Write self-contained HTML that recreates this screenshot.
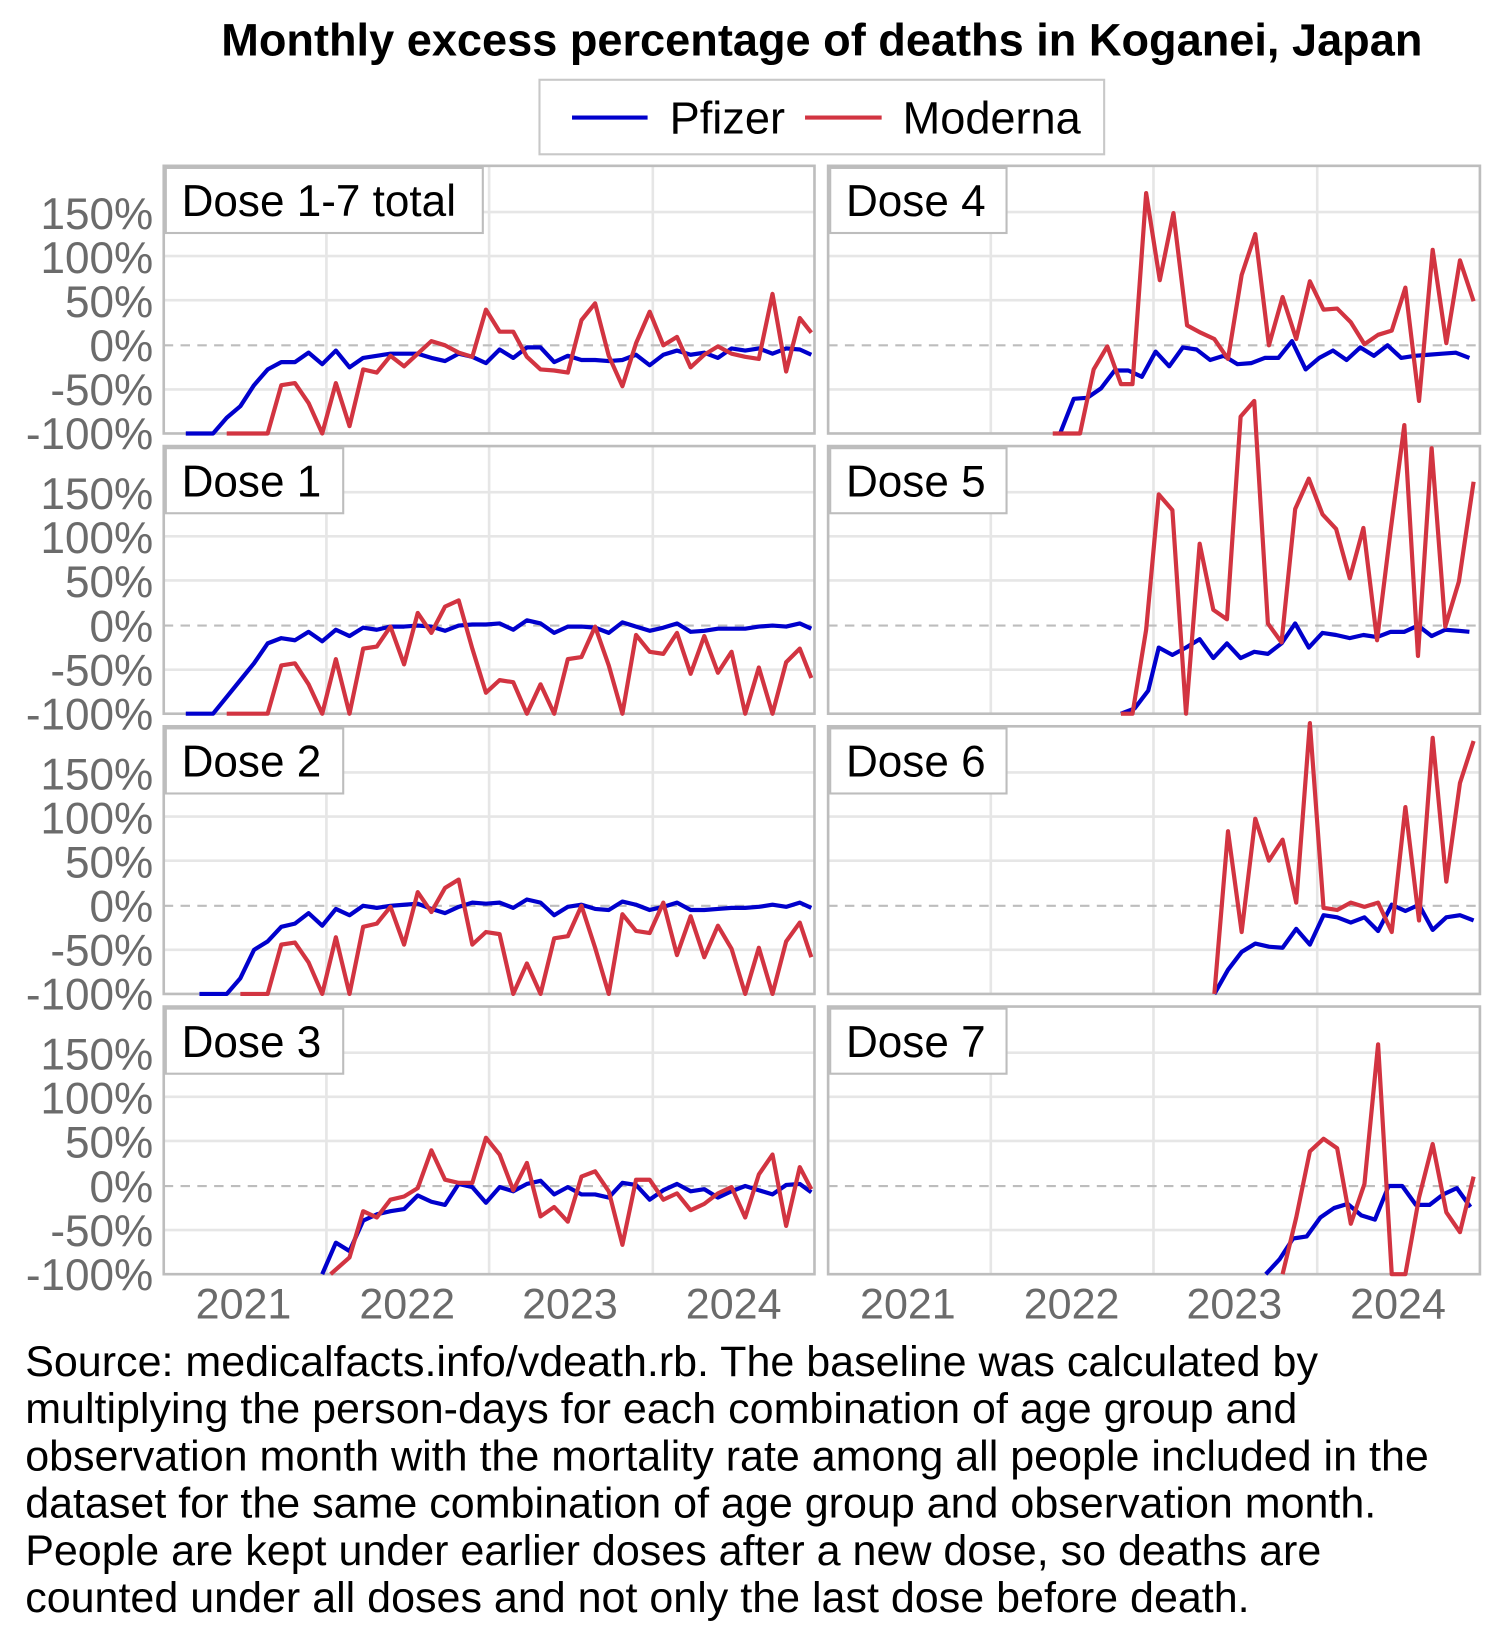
<!DOCTYPE html>
<html><head><meta charset="utf-8"><style>
html,body{margin:0;padding:0;background:#fff;}
svg{display:block;}
text{font-family:"Liberation Sans",Arial,sans-serif;}
</style></head><body>
<svg width="1503" height="1643" viewBox="0 0 1432 1565.4" xmlns="http://www.w3.org/2000/svg">
<defs>
<g id="grid">
<g stroke="#e6e6e6" stroke-width="2.5" fill="none">
<line x1="0" x2="620" y1="44" y2="44"/><line x1="0" x2="620" y1="86" y2="86"/><line x1="0" x2="620" y1="128" y2="128"/><line x1="0" x2="620" y1="213" y2="213"/>
<line x1="155" x2="155" y1="0" y2="255"/><line x1="310" x2="310" y1="0" y2="255"/><line x1="466" x2="466" y1="0" y2="255"/>
</g>
<line x1="0" x2="620" y1="171" y2="171" stroke="#bdbdbd" stroke-width="2" stroke-dasharray="9,7"/>
</g>
</defs>

<text x="783" y="53" font-size="43" font-weight="bold" text-anchor="middle">Monthly excess percentage of deaths in Koganei, Japan</text>
<rect x="514" y="76" width="538" height="71" fill="#fff" stroke="#c8c8c8" stroke-width="2"/>
<line x1="545" x2="617" y1="112" y2="112" stroke="#0000cc" stroke-width="4"/>
<text x="638" y="127" font-size="43">Pfizer</text>
<line x1="767" x2="840" y1="112" y2="112" stroke="#d23441" stroke-width="4"/>
<text x="860" y="127" font-size="43">Moderna</text>

<use href="#grid" transform="translate(156,158)"/>
<use href="#grid" transform="translate(156,425)"/>
<use href="#grid" transform="translate(156,692)"/>
<use href="#grid" transform="translate(156,959)"/>
<use href="#grid" transform="translate(789,158)"/>
<use href="#grid" transform="translate(789,425)"/>
<use href="#grid" transform="translate(789,692)"/>
<use href="#grid" transform="translate(789,959)"/>

<!-- panel borders -->
<g fill="none" stroke="#bdbdbd" stroke-width="2.5">
<rect x="156" y="158" width="620" height="255"/><rect x="156" y="425" width="620" height="255"/>
<rect x="156" y="692" width="620" height="255"/><rect x="156" y="959" width="620" height="255"/>
<rect x="789" y="158" width="621" height="255"/><rect x="789" y="425" width="621" height="255"/>
<rect x="789" y="692" width="621" height="255"/><rect x="789" y="959" width="621" height="255"/>
</g>
<!-- strips -->
<g fill="#fff" stroke="#bdbdbd" stroke-width="2">
<rect x="158" y="160" width="302" height="62"/><rect x="158" y="427" width="169" height="62"/>
<rect x="158" y="694" width="169" height="62"/><rect x="158" y="961" width="169" height="62"/>
<rect x="791" y="160" width="168" height="62"/><rect x="791" y="427" width="168" height="62"/>
<rect x="791" y="694" width="168" height="62"/><rect x="791" y="961" width="168" height="62"/>
</g>
<g font-size="42">
<text x="173" y="206">Dose 1-7 total</text><text x="173" y="473">Dose 1</text>
<text x="173" y="740">Dose 2</text><text x="173" y="1007">Dose 3</text>
<text x="806" y="206">Dose 4</text><text x="806" y="473">Dose 5</text>
<text x="806" y="740">Dose 6</text><text x="806" y="1007">Dose 7</text>
</g>

<g fill="none" stroke-width="4" stroke-linejoin="round">
<polyline stroke="#0000cc" points="177,413 190,413 203,413 216,398 229,387 242,367 255,352 268,345 281,345 294,336 307,347 320,334 333,350 346,341 359,339 372,337 385,337 398,337 411,341 424,344 437,337 450,340 463,346 476,333 489,341 502,331 515,331 528,345 541,339 554,343 567,343 580,344 593,343 606,338 619,348 632,338 645,334 658,338 671,336 684,341 697,332 710,334 723,332 736,337 749,332 762,333 773,338"/>
<polyline stroke="#d23441" points="216,413 229,413 242,413 255,413 268,367 281,365 294,384 307,413 320,365 333,406 346,352 359,355 372,339 385,349 398,337 411,325 424,329 437,336 450,340 463,295 476,316 489,316 502,340 515,352 528,353 541,355 554,305 567,289 580,339 593,368 606,327 619,297 632,329 645,321 658,350 671,338 684,330 697,337 710,340 723,342 736,280 749,354 762,303 773,317"/>
<polyline stroke="#0000cc" points="177,680 190,680 203,680 216,664 229,648 242,632 255,613 268,608 281,610 294,602 307,611 320,600 333,606 346,598 359,600 372,597 385,597 398,596 411,597 424,601 437,596 450,595 463,595 476,594 489,600 502,591 515,594 528,603 541,597 554,597 567,598 580,603 593,593 606,597 619,601 632,598 645,594 658,602 671,601 684,599 697,599 710,599 723,597 736,596 749,597 762,594 773,599"/>
<polyline stroke="#d23441" points="216,680 229,680 242,680 255,680 268,634 281,632 294,652 307,680 320,628 333,680 346,618 359,616 372,597 385,633 398,584 411,603 424,578 437,572 450,618 463,660 476,648 489,650 502,680 515,652 528,680 541,628 554,626 567,597 580,634 593,680 606,605 619,621 632,623 645,603 658,642 671,606 684,641 697,621 710,680 723,636 736,680 749,631 762,618 773,646"/>
<polyline stroke="#0000cc" points="190,947 203,947 216,947 229,932 242,905 255,897 268,883 281,880 294,870 307,882 320,866 333,872 346,863 359,865 372,863 385,862 398,861 411,866 424,870 437,864 450,860 463,861 476,860 489,865 502,857 515,860 528,872 541,864 554,862 567,866 580,867 593,859 606,862 619,867 632,864 645,860 658,867 671,867 684,866 697,865 710,865 723,864 736,862 749,864 762,860 773,865"/>
<polyline stroke="#d23441" points="229,947 242,947 255,947 268,900 281,898 294,917 307,947 320,893 333,947 346,883 359,880 372,864 385,900 398,850 411,869 424,846 437,838 450,900 463,888 476,890 489,947 502,918 515,947 528,894 541,892 554,863 567,903 580,947 593,871 606,887 619,889 632,860 645,910 658,873 671,912 684,882 697,904 710,947 723,903 736,947 749,897 762,879 773,912"/>
<polyline stroke="#0000cc" points="307,1214 320,1184 333,1192 346,1163 359,1157 372,1154 385,1152 398,1139 411,1145 424,1148 437,1128 450,1131 463,1146 476,1131 489,1135 502,1128 515,1125 528,1138 541,1131 554,1138 567,1138 580,1141 593,1127 606,1129 619,1143 632,1134 645,1128 658,1135 671,1133 684,1141 697,1135 710,1130 723,1134 736,1138 749,1129 762,1128 773,1136"/>
<polyline stroke="#d23441" points="315,1214 333,1198 346,1154 359,1160 372,1143 385,1140 398,1132 411,1096 424,1124 437,1127 450,1127 463,1084 476,1100 489,1134 502,1108 515,1159 528,1150 541,1164 554,1121 567,1116 580,1135 593,1186 606,1124 619,1124 632,1143 645,1137 658,1153 671,1147 684,1137 697,1131 710,1160 723,1119 736,1100 749,1168 762,1112 773,1133"/>
<polyline stroke="#0000cc" points="1010,413 1023,380 1036,379 1049,370 1062,353 1075,353 1088,359 1101,335 1114,349 1127,331 1140,333 1153,343 1166,339 1179,347 1192,346 1205,341 1218,341 1231,325 1244,352 1257,341 1270,334 1283,343 1296,331 1309,339 1322,329 1335,341 1348,339 1361,338 1374,337 1387,336 1400,341"/>
<polyline stroke="#d23441" points="1003,413 1016,413 1029,413 1042,352 1055,330 1068,366 1079,366 1092,184 1105,267 1118,203 1131,310 1144,317 1157,323 1170,342 1183,262 1196,223 1209,329 1222,283 1235,323 1248,268 1261,295 1274,294 1287,307 1300,328 1313,319 1326,315 1339,274 1352,382 1365,238 1378,327 1391,248 1404,287"/>
<polyline stroke="#0000cc" points="1068,680 1081,675 1094,658 1104,617 1117,624 1130,617 1143,609 1156,627 1169,613 1182,627 1195,621 1208,623 1221,613 1234,594 1247,617 1260,603 1273,605 1286,608 1299,605 1312,607 1325,602 1338,602 1351,596 1364,606 1377,600 1390,601 1400,602"/>
<polyline stroke="#d23441" points="1068,680 1079,680 1092,600 1104,471 1117,486 1130,680 1143,518 1156,581 1169,590 1182,397 1195,382 1208,594 1221,612 1234,485 1247,456 1260,490 1273,504 1286,551 1299,503 1312,610 1325,505 1338,405 1351,625 1364,427 1377,597 1390,554 1404,459"/>
<polyline stroke="#0000cc" points="1157,947 1170,924 1183,907 1196,899 1209,902 1222,903 1235,885 1248,900 1261,872 1274,874 1287,879 1300,874 1313,887 1326,862 1339,868 1352,862 1365,886 1378,874 1391,872 1404,877"/>
<polyline stroke="#d23441" points="1157,947 1170,792 1183,888 1196,780 1209,820 1222,800 1235,860 1248,689 1261,865 1274,867 1287,860 1300,864 1313,860 1326,888 1339,769 1352,877 1365,703 1378,840 1391,746 1404,706"/>
<polyline stroke="#0000cc" points="1206,1214 1219,1200 1232,1180 1245,1178 1258,1160 1271,1151 1284,1147 1297,1158 1310,1162 1323,1130 1336,1130 1349,1148 1362,1148 1375,1138 1388,1132 1401,1150"/>
<polyline stroke="#d23441" points="1222,1214 1235,1160 1248,1097 1261,1085 1274,1094 1287,1166 1300,1128 1313,995 1326,1214 1339,1214 1352,1141 1365,1090 1378,1155 1391,1174 1404,1121"/>
</g>

<!-- y labels -->
<g font-size="42" fill="#6b6b6b" text-anchor="end">
<g id="yl">
<text x="146" y="218">150%</text><text x="146" y="260">100%</text><text x="146" y="302">50%</text>
<text x="146" y="344">0%</text><text x="146" y="386">-50%</text><text x="146" y="428">-100%</text>
</g>
<use href="#yl" transform="translate(0,267)"/>
<use href="#yl" transform="translate(0,534)"/>
<use href="#yl" transform="translate(0,801)"/>
</g>
<!-- x labels -->
<g font-size="41" fill="#6b6b6b" text-anchor="middle">
<text x="232" y="1256">2021</text><text x="388" y="1256">2022</text><text x="543" y="1256">2023</text><text x="699" y="1256">2024</text>
<text x="865" y="1256">2021</text><text x="1021" y="1256">2022</text><text x="1176" y="1256">2023</text><text x="1332" y="1256">2024</text>
</g>
<!-- caption -->
<g font-size="41">
<text x="24" y="1311">Source: medicalfacts.info/vdeath.rb. The baseline was calculated by</text>
<text x="24" y="1356">multiplying the person-days for each combination of age group and</text>
<text x="24" y="1401">observation month with the mortality rate among all people included in the</text>
<text x="24" y="1446">dataset for the same combination of age group and observation month.</text>
<text x="24" y="1491">People are kept under earlier doses after a new dose, so deaths are</text>
<text x="24" y="1536">counted under all doses and not only the last dose before death.</text>
</g>
</svg>
</body></html>
